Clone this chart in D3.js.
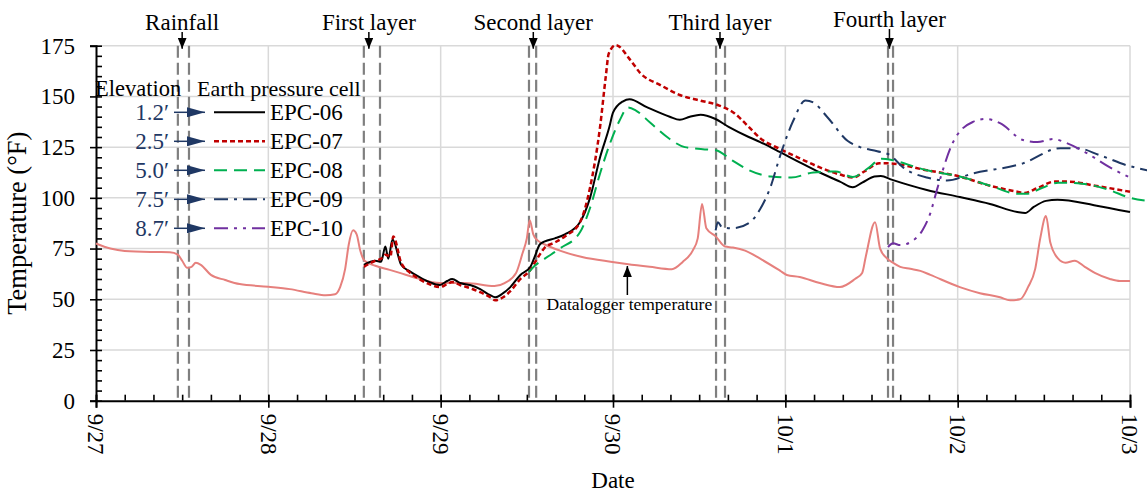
<!DOCTYPE html>
<meta charset="utf-8">
<script src="https://d3js.org/d3.v7.min.js"></script>
<style>
  body { margin: 0; background: #fff; }
  svg text { font-family: "Liberation Serif", "Times New Roman", serif; }
</style>
<div id="chart"></div>
<script>
// all times are hours elapsed since 9/27 00:00
const start = Date.UTC(2021, 8, 27)
const hr = h => new Date(start + h * 3600e3)

const datalogger = [[0,77.5],[2,75],[4,73.8],[8,73.3],[10.3,73.2],[11.4,72],[12,69],[12.7,65.5],[13.3,66],[13.9,68],[14.6,67],
  [16,62],[18,59.5],[20,57.5],[24,56.2],[27,55],[30,53],[32,52],[33.3,52.5],[34,56],[34.7,65],[35.2,77],[35.8,84],[36.3,82],
  [36.8,74],[37.4,69],[38.9,66.5],[40.9,64.5],[42.3,63],[44.6,60.5],[47.9,58],[51.5,58],[55.5,56.5],[56.9,58],[58.5,63],
  [59.4,72.7],[60,80],[60.4,89],[60.9,82],[61.5,79],[62.5,77],[64.6,74],[67.7,70.8],[71.9,68.4],[73.9,67.4],[77.1,66],
  [80.2,64.8],[81.7,68.4],[83.1,74],[83.8,80],[84.4,97],[85,85],[86.3,81],[87.6,76],[88.7,75.5],[90.4,74],[92.5,70],
  [95.3,64],[96.2,62],[98,61],[100.8,58],[103.6,56],[105.7,60],[106.7,63],[107.2,71],[108.5,88],[109.2,75],[110.2,70],
  [111,68],[112,66],[113.4,65],[114.8,64],[116.2,62],[120.3,56],[123.1,53],[125.9,51],[127.3,49.5],[128.7,50],[129.8,56],
  [130.8,65],[131.5,80],[132.3,91],[132.9,78],[134,70],[135,68],[136.3,69],[137.7,66],[139.1,63],[141.2,60],[142.6,59],[144,59]]

const epc06 = [[37.3,67],[38.9,69],[39.7,68.5],[40.3,76],[40.7,70],[41.3,79.5],[42.5,67],[43.6,64],[45,61],[46.4,58.5],
  [47.9,57],[48.9,59],[49.6,60],[50.7,58],[52.1,57],[53.5,55],[54.9,52],[55.6,51],[56.7,53],[57.7,56],[59.1,62],[60.5,66],
  [61.1,71],[61.8,77],[62.5,78.5],[63.9,80],[65.3,82],[67.4,88],[68.8,100],[70.2,120],[71.5,135],[72,142],[73.4,147.6],
  [74.3,148.6],[76.7,144.7],[79.9,140],[81.3,138.5],[82.7,140],[84.2,141],[86.2,139],[88.1,135],[90.9,130],[92.5,127.5],
  [95.3,122.5],[98,117.5],[100.8,112.5],[103.6,108],[105.4,105.2],[106.7,107.5],[108.4,110.5],[109.3,110.8],[110.8,109],
  [115.7,103.9],[120.3,100.4],[124.5,97],[128.3,93],[129.4,92.5],[130.6,95.5],[132.3,98.5],[133.9,99],[139,96.4],[144,93]]

const epc07 = [[37.3,66],[38.9,69],[39.7,70],[40.3,72],[41,71],[41.4,81],[42.5,68],[43.6,63.5],[45,60],[46.4,57.5],
  [47.9,56],[48.9,57.5],[49.6,58.5],[50.7,57],[52.1,55.5],[53.5,53.5],[54.9,51],[55.6,49.5],[56.7,51],[57.7,54],[59.1,60],
  [60.5,64.5],[61.1,68],[61.8,72],[62.5,75.5],[63.9,78],[65.3,81],[67.4,88],[68.8,105],[70.2,135],[71,160],[71.4,171],
  [72.4,175.3],[74.4,168],[75.8,161.5],[78.6,155.6],[81.3,150.7],[84.1,148],[86.8,145.5],[88.8,142],[90.9,135],[92.5,129.4],
  [95.3,124],[98,119.5],[100.8,115],[103.6,111.5],[105.5,110],[107,113],[109.1,117],[110.2,117],[115.7,113.6],[120.3,110.5],
  [124.5,106],[128.3,103],[129.3,102.4],[131.2,105],[133.5,108],[135.5,108],[139.1,106],[144,103]]

const epc08 = [[60.3,63.5],[61.1,66.5],[62.5,70],[64.6,75],[67.4,83],[68.8,95],[70.2,112],[71.6,127],[72.9,138],[74.1,144.5],
  [75.2,143],[77.2,137],[79.9,129],[82,125],[84.5,124],[86.3,123.5],[88.6,118.5],[90.9,113.7],[94,110.5],[96.8,110],
  [99.9,112.5],[103,113],[105.4,110.3],[107.5,114.5],[109.4,119.3],[110.2,119],[115.7,113.6],[120.3,110.5],[124.5,106],
  [128.4,102],[129.6,102],[131.8,105],[134,107.5],[137.3,107],[141,104],[144,100],[146.4,98.5]]

const epc09 = [[86.3,84],[86.6,88],[87.2,85.5],[88.7,85],[91.1,88],[92.5,94.5],[93.9,105],[95.3,121],[97.1,138],[98.8,148],
  [99.9,147],[101.8,140],[104.7,128],[106.4,125],[108.8,123],[110.6,121],[112.4,115],[115.7,110],[118.5,108.6],[122.1,112],
  [129.1,117],[134.3,124.5],[136.6,124.5],[139.8,121],[143.6,116],[146.4,113.6]]

const epc10 = [[110.3,75.7],[111,77.6],[112,76.7],[113.8,79],[115.1,84],[116.2,92.5],[117.1,103.8],[119.3,127],[122.1,137.4],
  [124,138.9],[125.9,136.8],[129.1,128.5],[131.1,127.5],[133.3,129],[135.2,127],[138,122],[141.2,115],[144,110]]

const cellNames = ["EPC-06", "EPC-07", "EPC-08", "EPC-09", "EPC-10"]
const elevations = ["1.2\u2032", "2.5\u2032", "5.0\u2032", "7.5\u2032", "8.7\u2032"]

const eventNames = ["Rainfall", "First layer", "Second layer", "Third layer", "Fourth layer"]
const eventArrow = [12.0, 38.0, 60.9, 86.9, 110.5]
const eventLines = [[11.4, 12.95], [37.3, 39.55], [60.3, 61.3], [86.35, 87.6], [110.3, 111.0]]

const yTicks = [0, 25, 50, 75, 100, 125, 150, 175]

// line styles for the cells
const styles = [
  {data: epc06, color: "#000000", dash: null, w: 2},
  {data: epc07, color: "#c00000", dash: "5,3", w: 2.5},
  {data: epc08, color: "#00b050", dash: "13,7", w: 2},
  {data: epc09, color: "#1f3864", dash: "14,6,3,6", w: 2},
  {data: epc10, color: "#7030a0", dash: "14,6,3,6,3,6", w: 2}
]

const FONT = "'Liberation Serif', 'Times New Roman', serif"
const W = 1147, H = 492
const margin = {top: 45.7, right: 17, bottom: 91.3, left: 96}
const width = W - margin.left - margin.right
const height = H - margin.top - margin.bottom

const svg = d3.select("#chart").append("svg")
    .attr("width", W).attr("height", H)
    .attr("font-family", FONT)

const defs = svg.append("defs")
function marker(id, color, len, half) {
  defs.append("marker").attr("id", id)
      .attr("markerUnits", "userSpaceOnUse")
      .attr("viewBox", `0 ${-half} ${len} ${half * 2}`)
      .attr("refX", len).attr("refY", 0)
      .attr("markerWidth", len).attr("markerHeight", half * 2)
      .attr("orient", "auto")
    .append("path").attr("d", `M0,${-half}L${len},0L0,${half}Z`).attr("fill", color)
}
marker("arrowBlack", "#000", 11, 4.5)
marker("arrowNavy", "#1f3864", 18, 5)

const g = svg.append("g").attr("transform", `translate(${margin.left},${margin.top})`)

const x = d3.scaleUtc().domain([hr(0), hr(144)]).range([0, width])
const y = d3.scaleLinear().domain([0, 175]).range([height, 0])

// gridlines
g.append("g").selectAll("line").data(yTicks.slice(1)).join("line")
    .attr("x1", 0).attr("x2", width)
    .attr("y1", d => y(d)).attr("y2", d => y(d))
    .attr("stroke", "#d9d9d9").attr("stroke-width", 1.5)
g.append("g").selectAll("line").data(x.ticks(d3.utcDay.every(1)).slice(1)).join("line")
    .attr("x1", d => x(d)).attr("x2", d => x(d))
    .attr("y1", 0).attr("y2", height)
    .attr("stroke", "#d9d9d9").attr("stroke-width", 1.5)

// event dashed lines
g.append("g").selectAll("line").data(eventLines.flat()).join("line")
    .attr("x1", d => x(hr(d))).attr("x2", d => x(hr(d)))
    .attr("y1", 0).attr("y2", height)
    .attr("stroke", "#7f7f7f").attr("stroke-width", 2.2)
    .attr("stroke-dasharray", "12,5")

// axes
const yAxis = g.append("g")
    .call(d3.axisLeft(y).tickValues(yTicks).tickSize(6).tickPadding(15))
yAxis.selectAll(".tick line").attr("x2", -6).attr("x1", 6)
g.append("g")
    .call(d3.axisRight(y).tickValues(d3.range(0, 176, 5).filter(d => d % 25)).tickSize(6).tickFormat(""))
    .select(".domain").remove()

const xAxis = g.append("g").attr("transform", `translate(0,${height})`)
    .call(d3.axisBottom(x).ticks(d3.utcDay.every(1)).tickSize(7).tickFormat(d3.utcFormat("%-m/%-d")))
xAxis.selectAll(".tick line").attr("y1", -6)
xAxis.selectAll(".tick text")
    .attr("transform", "rotate(90)")
    .attr("text-anchor", "start")
    .attr("x", 13).attr("y", 0).attr("dy", "0.35em")
g.append("g").attr("transform", `translate(0,${height})`)
    .call(d3.axisTop(x).ticks(d3.utcHour.every(4)).tickSize(6).tickFormat(""))
    .select(".domain").remove()

g.selectAll("g").attr("font-family", FONT)
g.selectAll(".domain").attr("stroke", "#000").attr("stroke-width", 2)
g.selectAll(".tick line").attr("stroke", "#000").attr("stroke-width", 1.6)
g.selectAll(".tick text").attr("font-size", 23).attr("fill", "#000")

// lines
const line = d3.line()
    .x(d => x(hr(d[0])))
    .y(d => y(d[1]))
    .curve(d3.curveMonotoneX)

g.append("path").datum(datalogger)
    .attr("d", line).attr("fill", "none")
    .attr("stroke", "#e6807d").attr("stroke-width", 2)

styles.forEach(s => {
  g.append("path").datum(s.data)
      .attr("d", line).attr("fill", "none")
      .attr("stroke", s.color).attr("stroke-width", s.w)
      .attr("stroke-dasharray", s.dash)
})

// event labels + arrows
eventNames.forEach((name, i) => {
  const ex = x(hr(eventArrow[i]))
  const base = i == 4 ? 27 - margin.top : 30 - margin.top
  g.append("text").attr("x", ex).attr("y", base)
      .attr("text-anchor", "middle").attr("font-size", 23).text(name)
  g.append("line").attr("x1", ex).attr("x2", ex)
      .attr("y1", base + 2).attr("y2", 3)
      .attr("stroke", "#000").attr("stroke-width", 1.5)
      .attr("marker-end", "url(#arrowBlack)")
})

// datalogger annotation
const dlx = x(hr(74.0))
g.append("line").attr("x1", dlx).attr("x2", dlx)
    .attr("y1", 295 - margin.top).attr("y2", 266 - margin.top)
    .attr("stroke", "#000").attr("stroke-width", 1.5)
    .attr("marker-end", "url(#arrowBlack)")
g.append("text").attr("x", dlx + 2).attr("y", 310 - margin.top)
    .attr("text-anchor", "middle").attr("font-size", 17.5)
    .text("Datalogger temperature")

// legend
const leg = svg.append("g")
leg.append("text").attr("x", 95).attr("y", 96).attr("font-size", 22.5).text("Elevation")
leg.append("text").attr("x", 197).attr("y", 96).attr("font-size", 22).text("Earth pressure cell")
cellNames.forEach((name, i) => {
  const ly = 112.3 + i * 29
  leg.append("text").attr("x", 169).attr("y", ly + 8)
      .attr("text-anchor", "end").attr("font-size", 23).attr("fill", "#1f3864")
      .text(elevations[i])
  leg.append("line").attr("x1", 174).attr("x2", 205).attr("y1", ly).attr("y2", ly)
      .attr("stroke", "#1f3864").attr("stroke-width", 1.5)
      .attr("marker-end", "url(#arrowNavy)")
  leg.append("line").attr("x1", 214).attr("x2", 265).attr("y1", ly).attr("y2", ly)
      .attr("stroke", styles[i].color).attr("stroke-width", styles[i].w)
      .attr("stroke-dasharray", styles[i].dash)
  leg.append("text").attr("x", 270).attr("y", ly + 8).attr("font-size", 23).text(name)
})

// axis titles
svg.append("text")
    .attr("transform", `translate(26,${margin.top + height / 2}) rotate(-90)`)
    .attr("text-anchor", "middle").attr("font-size", 26.5)
    .text("Temperature (\u00b0F)")
svg.append("text").attr("x", margin.left + width / 2).attr("y", 488)
    .attr("text-anchor", "middle").attr("font-size", 23).text("Date")
</script>
